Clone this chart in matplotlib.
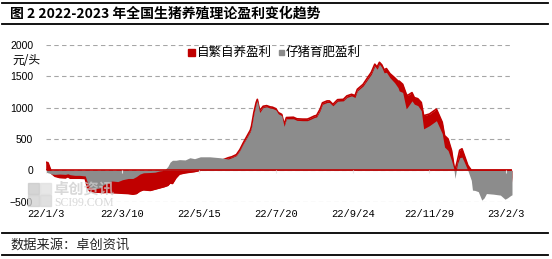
import pandas as pd
from matplotlib import pyplot as plt
from matplotlib.lines import Line2D
from matplotlib.patches import Rectangle

plt.rcParams['font.family'] = ['Noto Sans CJK SC', 'DejaVu Sans']

# 日期 (周度数据, 从图上读取)
dates = [
    '2022-01-03', '2022-01-05', '2022-01-07', '2022-01-08', '2022-01-11', '2022-01-15',
    '2022-01-20', '2022-01-22', '2022-01-24', '2022-01-28', '2022-02-01', '2022-02-06',
    '2022-02-08', '2022-02-10', '2022-02-14', '2022-02-19', '2022-02-21', '2022-02-25',
    '2022-03-01', '2022-03-06', '2022-03-10', '2022-03-15', '2022-03-19', '2022-03-22',
    '2022-03-25', '2022-03-28', '2022-04-03', '2022-04-07', '2022-04-11', '2022-04-15',
    '2022-04-18', '2022-04-20', '2022-04-22', '2022-04-25', '2022-04-28', '2022-05-03',
    '2022-05-07', '2022-05-11', '2022-05-16', '2022-05-24', '2022-06-02', '2022-06-09',
    '2022-06-12', '2022-06-16', '2022-06-19', '2022-06-22', '2022-06-25', '2022-06-28',
    '2022-06-29', '2022-07-01', '2022-07-03', '2022-07-04', '2022-07-06', '2022-07-09',
    '2022-07-12', '2022-07-15', '2022-07-17', '2022-07-20', '2022-07-22', '2022-07-25',
    '2022-07-27', '2022-07-29', '2022-08-04', '2022-08-07', '2022-08-12', '2022-08-16',
    '2022-08-18', '2022-08-22', '2022-08-24', '2022-08-27', '2022-08-29', '2022-09-02',
    '2022-09-04', '2022-09-07', '2022-09-11', '2022-09-16', '2022-09-19', '2022-09-23',
    '2022-09-26', '2022-09-28', '2022-10-03', '2022-10-07', '2022-10-10', '2022-10-13',
    '2022-10-15', '2022-10-17', '2022-10-19', '2022-10-21', '2022-10-23', '2022-10-26',
    '2022-10-30', '2022-11-02', '2022-11-03', '2022-11-06', '2022-11-09', '2022-11-10',
    '2022-11-14', '2022-11-16', '2022-11-19', '2022-11-22', '2022-11-24', '2022-11-29',
    '2022-12-05', '2022-12-10', '2022-12-12', '2022-12-15', '2022-12-18', '2022-12-20',
    '2022-12-21', '2022-12-23', '2022-12-25', '2022-12-27', '2022-12-29', '2023-01-01',
    '2023-01-04', '2023-01-05', '2023-01-07', '2023-01-10', '2023-01-13', '2023-01-15',
    '2023-01-17', '2023-01-23', '2023-01-29', '2023-02-02', '2023-02-04', '2023-02-07',
    '2023-02-08',
]

# 自繁自养盈利 (元/头)
self_breeding = [
    130, 120, 20, -50, -95, -115,
    -120, -100, -125, -125, -125, -130,
    -280, -330, -345, -350, -355, -350,
    -355, -360, -365, -370, -380, -370,
    -330, -310, -320, -300, -280, -260,
    -240, -200, -210, -120, -60, -40,
    -30, -20, 0, 80, 150, 200,
    215, 250, 330, 440, 540, 640,
    705, 920, 1080, 1130, 950, 1020,
    1030, 1010, 1005, 980, 920, 890,
    730, 840, 845, 820, 815, 815,
    830, 865, 875, 975, 1075, 1105,
    1105, 1050, 1125, 1130, 1185, 1210,
    1190, 1290, 1370, 1480, 1560, 1690,
    1645, 1720, 1680, 1600, 1620, 1540,
    1475, 1420, 1420, 1370, 1216, 1190,
    1237, 1158, 1140, 1080, 870, 896,
    975, 765, 553, 500, 316, 80,
    0, 150, 320, 343, 237, 80,
    0, 0, 0, 0, 0, 0,
    0, 0, 0, 0, 0, 0,
    -190,
]

# 仔猪育肥盈利 (元/头)
piglet_fattening = [
    -30, -40, -50, -60, -65, -60,
    -65, -55, -70, -80, -80, -90,
    -200, -270, -295, -280, -240, -200,
    -170, -180, -150, -130, -130, -100,
    -60, -40, -35, -30, -10, 0,
    60, 130, 160, 160, 170, 165,
    200, 185, 215, 215, 200, 180,
    200, 235, 316, 425, 520, 620,
    685, 900, 1060, 1110, 920, 1000,
    1010, 990, 985, 960, 900, 870,
    700, 820, 820, 795, 790, 790,
    805, 840, 850, 950, 1050, 1080,
    1080, 1027, 1100, 1106, 1160, 1185,
    1160, 1264, 1343, 1450, 1528, 1659,
    1610, 1690, 1640, 1553, 1560, 1475,
    1395, 1316, 1264, 1240, 980, 1000,
    1106, 1053, 1030, 950, 660, 711,
    790, 585, 370, 316, 158, 25,
    -130, 100, 200, 210, 130, 0,
    -160, -316, -320, -340, -475, -440,
    -370, -380, -395, -460, -440, -400,
    -390,
]

tick_dates = ['2022-01-03', '2022-03-10', '2022-05-15', '2022-07-20',
              '2022-09-24', '2022-11-29', '2023-02-03']
tick_labels = ['22/1/3', '22/3/10', '22/5/15', '22/7/20', '22/9/24', '22/11/29', '23/2/3']
y_ticks = [-500, 0, 500, 1000, 1500, 2000]

W, H = 552, 259
RED = '#c00000'
GRAY = '#8c8c8c'

d = pd.to_datetime(dates)
td = pd.to_datetime(tick_dates)

fig = plt.figure(figsize=(W / 100, H / 100), dpi=100)
ax = fig.add_axes([45.7 / W, 1 - 201.7 / H, (512 - 45.7) / W, (201.7 - 44.7) / H])

ax.fill_between(d, self_breeding, 0, color=RED, lw=0, zorder=2)
ax.plot(d, self_breeding, color=RED, lw=1.2, zorder=2)
ax.fill_between(d, piglet_fattening, 0, color=GRAY, lw=0, zorder=3)
ax.axhline(0, color=RED, lw=1.2, zorder=4)
ax.vlines(td, -45, 0, color='#e6e6e6', lw=0.8, zorder=5)

ax.set_xlim(d[0], d[-1])
ax.set_ylim(-500, 2000)
ax.set_yticks(y_ticks)
ax.set_xticks(td)
ax.set_xticklabels(tick_labels, family='Liberation Mono', fontsize=7.5)
for lbl in ax.get_yticklabels():
    lbl.set_family('Liberation Sans')
    lbl.set_fontsize(7.5)
ax.tick_params(length=0)
ax.tick_params(axis='y', pad=9)
ax.tick_params(axis='x', pad=5)
ax.grid(axis='y', ls=(0, (4, 3)), color='#a6a6a6', lw=0.8)
ax.set_axisbelow(True)
for s in ax.spines.values():
    s.set_visible(False)

# 水印
wm = '#cccccc'
for (x0, y0, c) in [(28, 183, '#c8c8c8'), (40, 183, '#e0e0e0'), (28, 195, '#cfcfcf'), (40, 195, '#d6d6d6')]:
    fig.patches.append(Rectangle((x0 / W, 1 - (y0 + 11) / H), 11 / W, 11 / H,
                                 transform=fig.transFigure, color=c, alpha=0.75, zorder=6))
fig.text(53 / W, 1 - 188 / H, '卓创资讯', fontsize=11, fontweight='bold', color=wm,
         alpha=0.75, va='center', zorder=6)
fig.text(54 / W, 1 - 203 / H, 'SCI99.COM', family='Liberation Serif', fontsize=8.5,
         color=wm, alpha=0.75, va='center', zorder=6)

# 标题与来源
fig.text(10 / W, 1 - 14 / H, '图 2 2022-2023 年全国生猪养殖理论盈利变化趋势',
         fontsize=10, fontweight='bold', va='center')
fig.text(10 / W, 1 - 245 / H, '数据来源：卓创资讯', fontsize=9.5, color='#222222', va='center')
for yy in [3, 24, 233, 255]:
    fig.add_artist(Line2D([2 / W, 548 / W], [1 - yy / H, 1 - yy / H],
                          transform=fig.transFigure, color='black', lw=1.3))

fig.text(12 / W, 1 - 60 / H, '元/头', fontsize=8.5, va='center')

# 图例
fig.patches.append(Rectangle((188 / W, 1 - 56 / H), 7 / W, 7 / H,
                             transform=fig.transFigure, color=RED))
fig.text(197 / W, 1 - 52 / H, '自繁自养盈利', fontsize=9, va='center')
fig.patches.append(Rectangle((279 / W, 1 - 55 / H), 5 / W, 5 / H,
                             transform=fig.transFigure, color=GRAY))
fig.text(286 / W, 1 - 52 / H, '仔猪育肥盈利', fontsize=9, va='center')

fig.savefig('out.png', dpi=100)
